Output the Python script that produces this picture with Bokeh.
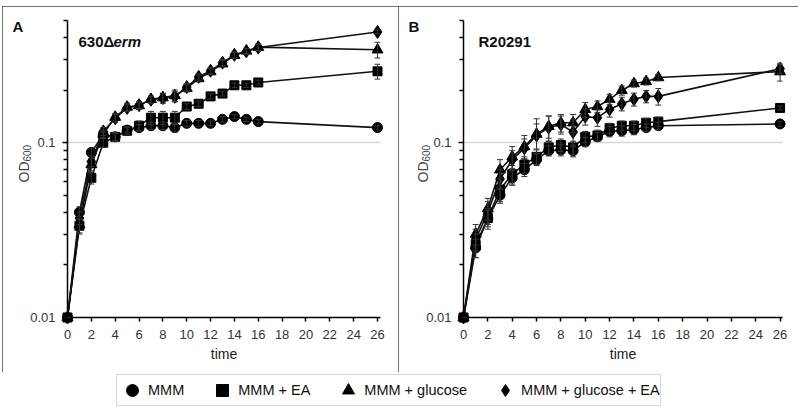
import math
from bokeh.plotting import figure
from bokeh.models import (ColumnDataSource, Range1d, FixedTicker, NumeralTickFormatter,
                          Whisker, TeeHead, Legend, LegendItem, Spacer)
from bokeh.layouts import column, row
from bokeh.core.properties import value
from bokeh.embed import file_html
from bokeh.resources import INLINE

# ---------------- data ----------------
time = [0, 1, 2, 3, 4, 5, 6, 7, 8, 9, 10, 11, 12, 13, 14, 15, 16, 26]
series_names = ["MMM", "MMM + EA", "MMM + glucose", "MMM + glucose + EA"]

# Panel A: 630Δerm
A_mmm = [0.010, 0.040, 0.088, 0.111, 0.108, 0.118, 0.122, 0.125, 0.125, 0.122, 0.129, 0.129, 0.129, 0.136, 0.141, 0.136, 0.132, 0.122]
A_ea = [0.010, 0.0335, 0.063, 0.100, 0.108, 0.117, 0.125, 0.139, 0.139, 0.139, 0.161, 0.167, 0.184, 0.191, 0.213, 0.213, 0.221, 0.256]
A_glc = [0.010, 0.034, 0.075, 0.112, 0.140, 0.160, 0.163, 0.177, 0.181, 0.186, 0.205, 0.233, 0.255, 0.283, 0.316, 0.335, 0.352, 0.340]
A_glcea = [0.010, 0.037, 0.078, 0.116, 0.138, 0.158, 0.164, 0.176, 0.180, 0.183, 0.208, 0.238, 0.258, 0.287, 0.318, 0.333, 0.350, 0.430]

A_mmm_err = [0, 0.003, 0.004, 0.004, 0.005, 0.004, 0.005, 0.006, 0.006, 0.007, 0.005, 0.005, 0.004, 0.005, 0.004, 0.004, 0.004, 0.004]
A_ea_err = [0, 0.003, 0.005, 0.006, 0.006, 0.006, 0.008, 0.012, 0.012, 0.012, 0.006, 0.006, 0.006, 0.006, 0.006, 0.006, 0.007, 0.025]
A_glc_err = [0, 0.004, 0.006, 0.006, 0.007, 0.008, 0.008, 0.008, 0.010, 0.014, 0.010, 0.010, 0.010, 0.012, 0.012, 0.012, 0.015, 0.035]
A_glcea_err = [0, 0.003, 0.005, 0.006, 0.007, 0.007, 0.007, 0.008, 0.012, 0.012, 0.010, 0.010, 0.010, 0.012, 0.012, 0.012, 0.015, 0.012]

# Panel B: R20291
B_mmm = [0.010, 0.025, 0.037, 0.050, 0.063, 0.070, 0.080, 0.090, 0.091, 0.090, 0.101, 0.108, 0.116, 0.117, 0.119, 0.122, 0.125, 0.128]
B_ea = [0.010, 0.026, 0.037, 0.054, 0.066, 0.075, 0.083, 0.094, 0.097, 0.094, 0.108, 0.110, 0.121, 0.125, 0.125, 0.130, 0.132, 0.158]
B_glc = [0.010, 0.030, 0.042, 0.070, 0.083, 0.095, 0.112, 0.124, 0.130, 0.130, 0.155, 0.161, 0.177, 0.199, 0.218, 0.224, 0.236, 0.255]
B_glcea = [0.010, 0.028, 0.040, 0.062, 0.080, 0.093, 0.110, 0.122, 0.127, 0.115, 0.141, 0.139, 0.155, 0.167, 0.177, 0.184, 0.184, 0.265]

B_mmm_err = [0, 0.003, 0.004, 0.005, 0.006, 0.006, 0.006, 0.006, 0.007, 0.007, 0.006, 0.006, 0.008, 0.008, 0.008, 0.006, 0.006, 0.004]
B_ea_err = [0, 0.004, 0.005, 0.008, 0.008, 0.008, 0.008, 0.008, 0.008, 0.008, 0.008, 0.008, 0.008, 0.008, 0.008, 0.008, 0.008, 0.004]
B_glc_err = [0, 0.004, 0.006, 0.010, 0.012, 0.015, 0.025, 0.018, 0.015, 0.015, 0.015, 0.012, 0.012, 0.012, 0.010, 0.010, 0.010, 0.030]
B_glcea_err = [0, 0.004, 0.006, 0.008, 0.010, 0.012, 0.018, 0.020, 0.015, 0.020, 0.015, 0.015, 0.015, 0.015, 0.015, 0.015, 0.020, 0.015]

x_ticks = [0, 2, 4, 6, 8, 10, 12, 14, 16, 18, 20, 22, 24, 26]
y_ticks = [0.01, 0.1]
y_minor = [0.02, 0.03, 0.04, 0.05, 0.06, 0.07, 0.08, 0.09, 0.2, 0.3, 0.4, 0.5]
Y_MIN, Y_MAX = 0.01, 0.5

FONT = "Liberation Sans"
MARKERS = [("circle", 10), ("square", 9), ("triangle", 11), ("diamond", 13)]
PANEL_STYLE = {"outline": "1px solid #444", "outline-offset": "-1px"}


def corner_text(p, txt, dx, dy, size, style="bold", angle=0.0, baseline="top", color="#111111"):
    # text anchored at the frame's top-left corner, shifted by pixel offsets
    p.text(x=[0], y=[Y_MAX], text=[txt], x_offset=dx, y_offset=dy, angle=angle,
           text_font=value(FONT), text_font_size=value(size), text_font_style=style,
           text_baseline=baseline, text_align="left", text_color=color, level="overlay")


def make_panel(width, letter, strain, strain_italic, values, errors, left, right, x_end, od_dx):
    p = figure(width=width, height=366, x_range=Range1d(0, x_end), y_range=Range1d(Y_MIN, Y_MAX),
               y_axis_type="log", output_backend="svg", toolbar_location=None,
               min_border_left=left, min_border_right=right, min_border_top=14, min_border_bottom=55,
               outline_line_color=None, background_fill_color="white", border_fill_color="white",
               styles=PANEL_STYLE)
    p.xgrid.visible = False
    p.ygrid.ticker = FixedTicker(ticks=[0.1])
    p.ygrid.grid_line_color = "#d8d8d8"
    p.ygrid.grid_line_width = 1.5

    p.xaxis.ticker = FixedTicker(ticks=x_ticks)
    p.yaxis.ticker = FixedTicker(ticks=y_ticks, minor_ticks=y_minor)
    p.yaxis.formatter = NumeralTickFormatter(format="0.[00]")
    for ax in (p.xaxis[0], p.yaxis[0]):
        ax.axis_line_color = "black"
        ax.axis_line_width = 1.5
        ax.major_tick_line_color = "black"
        ax.major_tick_line_width = 1.5
        ax.minor_tick_line_color = "black"
        ax.minor_tick_line_width = 1.5
        ax.major_tick_in = 0
        ax.minor_tick_in = 0
        ax.major_label_text_font = FONT
        ax.major_label_text_font_size = "13px"
        ax.major_label_text_color = "#333333"
    p.xaxis.major_tick_out = 4
    p.xaxis.minor_tick_out = 0
    p.xaxis.major_label_standoff = 8
    p.yaxis.major_tick_out = 5
    p.yaxis.minor_tick_out = 4
    p.yaxis.major_label_standoff = 7
    p.xaxis.axis_label = "time"
    p.xaxis.axis_label_text_font = FONT
    p.xaxis.axis_label_text_font_size = "14px"
    p.xaxis.axis_label_text_font_style = "normal"
    p.xaxis.axis_label_text_color = "#222222"
    p.xaxis.axis_label_standoff = 4

    for (marker, size), vals, errs in zip(MARKERS, values, errors):
        src = ColumnDataSource(dict(t=time, v=vals,
                                    lo=[v - e for v, e in zip(vals, errs)],
                                    hi=[v + e for v, e in zip(vals, errs)]))
        p.line("t", "v", source=src, line_color="#111111", line_width=1.6, level="overlay")
        p.add_layout(Whisker(base="t", lower="lo", upper="hi", source=src,
                             line_color="#333333", line_width=1, level="overlay",
                             upper_head=TeeHead(size=6, line_color="#333333", line_width=1),
                             lower_head=TeeHead(size=6, line_color="#333333", line_width=1)))
        p.scatter("t", "v", source=src, marker=marker, size=size,
                  fill_color="black", line_color="black", level="overlay")

    # panel letter, strain name, y-axis title (OD600 with subscript)
    corner_text(p, letter, -55, -3, "15px")
    if strain_italic:
        corner_text(p, strain, 11, 12, "15px")
        corner_text(p, strain_italic, 46, 12, "15px", style="bold italic")
    else:
        corner_text(p, strain, 15, 12, "15px")
    corner_text(p, "OD", od_dx, 162, "14px", style="normal", angle=math.pi / 2,
                baseline="alphabetic", color="#444444")
    corner_text(p, "600", od_dx + 3, 141, "10px", style="normal", angle=math.pi / 2,
                baseline="alphabetic", color="#444444")
    return p


pA = make_panel(396, "A", "630\u0394", "erm",
                [A_mmm, A_ea, A_glc, A_glcea], [A_mmm_err, A_ea_err, A_glc_err, A_glcea_err],
                left=65, right=18, x_end=26.25, od_dx=-44)
pB = make_panel(400, "B", "R20291", None,
                [B_mmm, B_ea, B_glc, B_glcea], [B_mmm_err, B_ea_err, B_glc_err, B_glcea_err],
                left=65, right=16, x_end=26.2, od_dx=-41)

# ---------------- legend strip ----------------
lf = figure(width=798, height=36, x_range=Range1d(0, 1), y_range=Range1d(0, 1),
            x_axis_location=None, y_axis_location=None, toolbar_location=None,
            output_backend="svg", min_border=0, outline_line_color=None)
lf.grid.visible = False
items = []
for (marker, size), name in zip(MARKERS, series_names):
    # legend proxies: a single point placed outside the visible range
    r = lf.scatter(x=[-5], y=[-5], marker=marker, size=size, fill_color="black", line_color="black")
    items.append(LegendItem(label=name, renderers=[r]))
legend = Legend(items=items, orientation="horizontal", location=(116, 2),
                glyph_width=30, glyph_height=30, label_standoff=1, spacing=23,
                padding=0, margin=0, label_height=30,
                label_text_font=FONT, label_text_font_size="14.5px", label_text_color="#111111",
                border_line_color="#b0b0b0", border_line_width=1, background_fill_color="white")
lf.add_layout(legend)

layout = column(Spacer(height=6), row(Spacer(width=2), pA, pB), lf)
open("out.html", "w").write(file_html(layout, INLINE))
